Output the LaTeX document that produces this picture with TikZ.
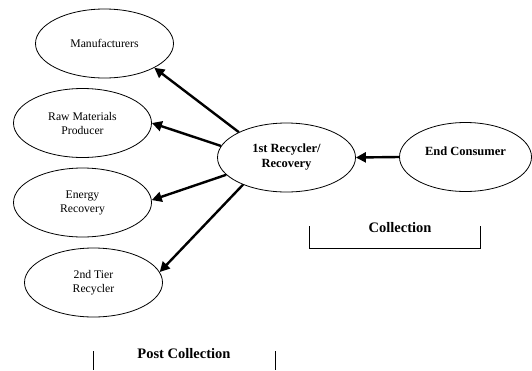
\documentclass[tikz,border=0pt]{standalone}
\usepackage{fontspec}
\setmainfont{Liberation Serif}
\usetikzlibrary{shapes.geometric,arrows.meta}

\begin{document}
\begin{tikzpicture}[
    x=1pt, y=-1pt,
    >={Triangle[length=10pt,width=10pt]},
    party/.style={ellipse, draw, line width=0.8pt, inner sep=0pt, align=center,
        minimum width=138pt, minimum height=69pt, font=\fontsize{11.7}{14}\selectfont},
    keyparty/.style={party, font=\fontsize{12.5}{15}\selectfont\bfseries},
    stage/.style={font=\fontsize{14.5}{17}\selectfont\bfseries},
    flow/.style={->, line width=2.4pt},
    bracket/.style={line width=0.8pt}
]
\useasboundingbox (0,0) rectangle (532,370);

% Receivers on the left
\node[party] (manu) at (104.5,43.5) {Manufacturers};
\node[party] (raw) at (82.5,123) {Raw Materials\\Producer};
\node[party] (energy) at (82.5,202.5) {Energy\\Recovery};
\node[party] (tier) at (93.5,282.5) {2nd Tier\\Recycler};

% Recycler and consumer
\node[keyparty] (recy) at (286.5,157.5) {1st Recycler/\\Recovery};
\node[keyparty, minimum width=132pt, text depth=12pt] (cons) at (465.5,157) {End Consumer};

% Flows
\draw[flow] (cons.west) -- (recy.east);
\draw[flow] (recy.152.7) -- (manu.334);
\draw[flow] (recy.170.8) -- (raw.0);
\draw[flow] (recy.196) -- (energy.2);
\draw[flow] (recy.212.3) -- (tier.9.5);

% Stage brackets
\node[stage] (coll) at (400,228) {Collection};
\draw[bracket] (309,226) -- (309,248) -- (480,248) -- (480,226);

\node[stage] (post) at (184,354) {Post Collection};
\draw[bracket] (93,351) -- (93,370);
\draw[bracket] (275,351) -- (275,370);

\end{tikzpicture}
\end{document}
